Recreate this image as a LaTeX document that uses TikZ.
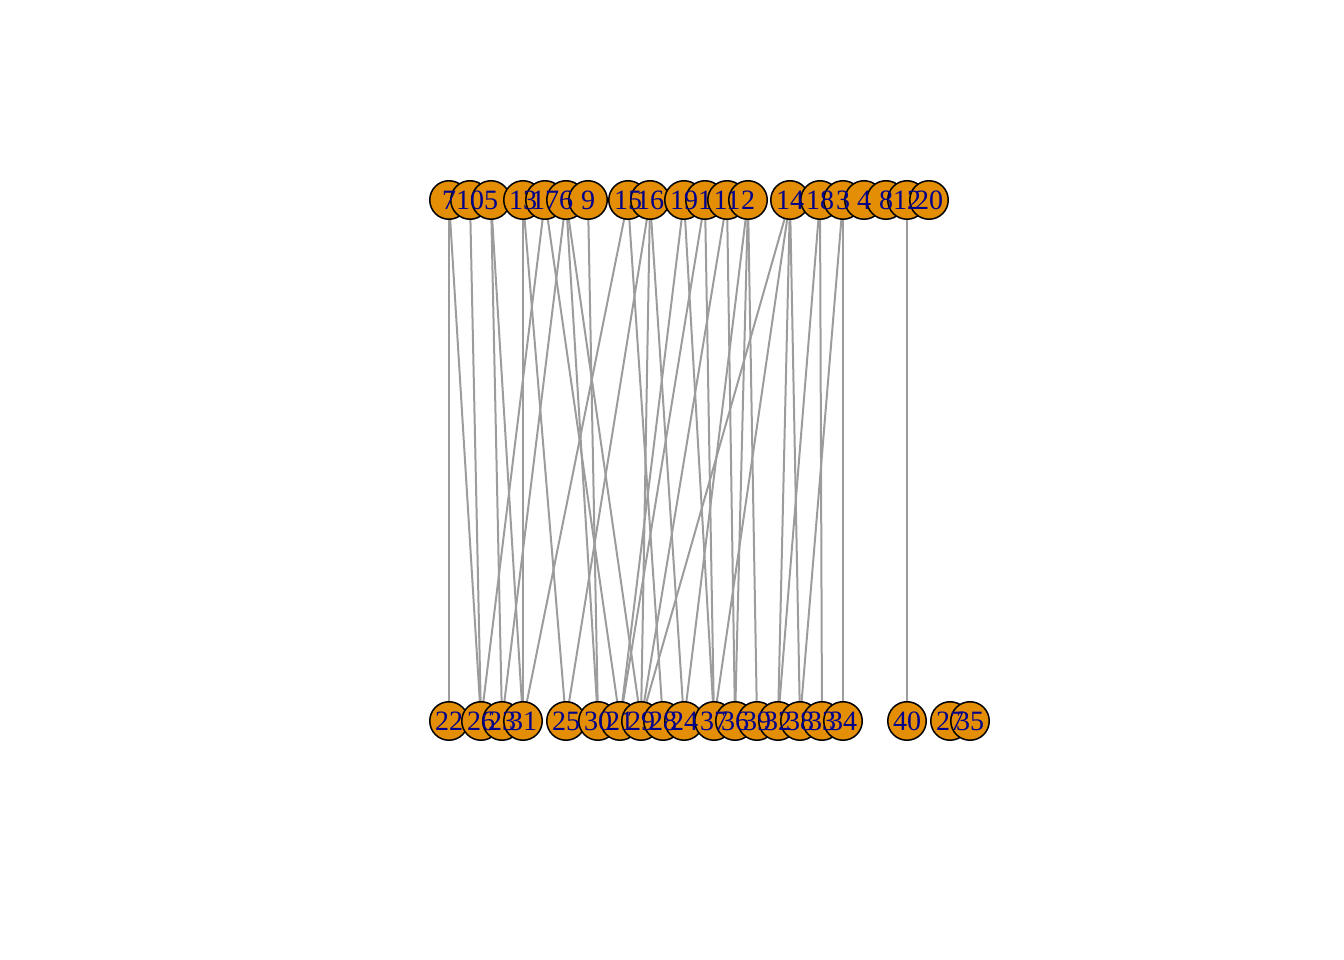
\documentclass[tikz,border=0pt]{standalone}
\usepackage{fontspec}
\setmainfont{Liberation Serif}
\definecolor{vertexorange}{HTML}{E38E05}
\definecolor{edgegrey}{HTML}{9C9C9C}
\definecolor{labelblue}{HTML}{00008B}
\pgfdeclarelayer{edges}
\pgfsetlayers{edges,main}

\begin{document}
\begin{tikzpicture}[x=1pt,y=1pt,
  vertex/.style={circle,draw=black,line width=1.5pt,fill=vertexorange,minimum size=38.5pt,inner sep=0pt},
  vlabel/.style={text=labelblue,font=\fontsize{28}{28}\selectfont,inner sep=0pt},
  link/.style={draw=edgegrey,line width=2pt}]
\useasboundingbox (0,0) rectangle (1344,960);
% Top row
\foreach \n/\x in {7/449,10/470,5/491,13/523,17/545,6/566,9/588,15/628,16/650,19/684,
                   1/705,11/727,2/748,14/790,18/820,3/843,4/864,8/886,12/907,20/929} {
    \node[vertex] (v\n) at (\x,760) {};
}
% Bottom row
\foreach \n/\x in {22/449,26/481,23/502,31/523,25/566,30/598,21/620,29/641,28/663,24/684,
                   37/714,36/735,39/757,32/778,38/800,33/822,34/843,40/907,27/950,35/970} {
    \node[vertex] (v\n) at (\x,239) {};
}
% Labels over all circles
\foreach \n in {1,...,40} {
    \node[vlabel] (t\n) at (v\n) {\n};
}
% Edges
\begin{pgfonlayer}{edges}
\foreach \a/\b in {7/22,7/26,10/26,5/23,5/31,13/31,13/25,17/26,17/21,6/23,6/30,6/29,
                   9/30,15/31,15/28,16/25,16/29,16/24,19/21,19/37,1/21,1/37,11/29,11/36,
                   2/24,2/36,2/39,14/29,14/37,14/32,14/38,18/32,18/33,3/38,3/34,12/40} {
    \draw[link] (v\a.center) -- (v\b.center);
}
\end{pgfonlayer}
\end{tikzpicture}
\end{document}
